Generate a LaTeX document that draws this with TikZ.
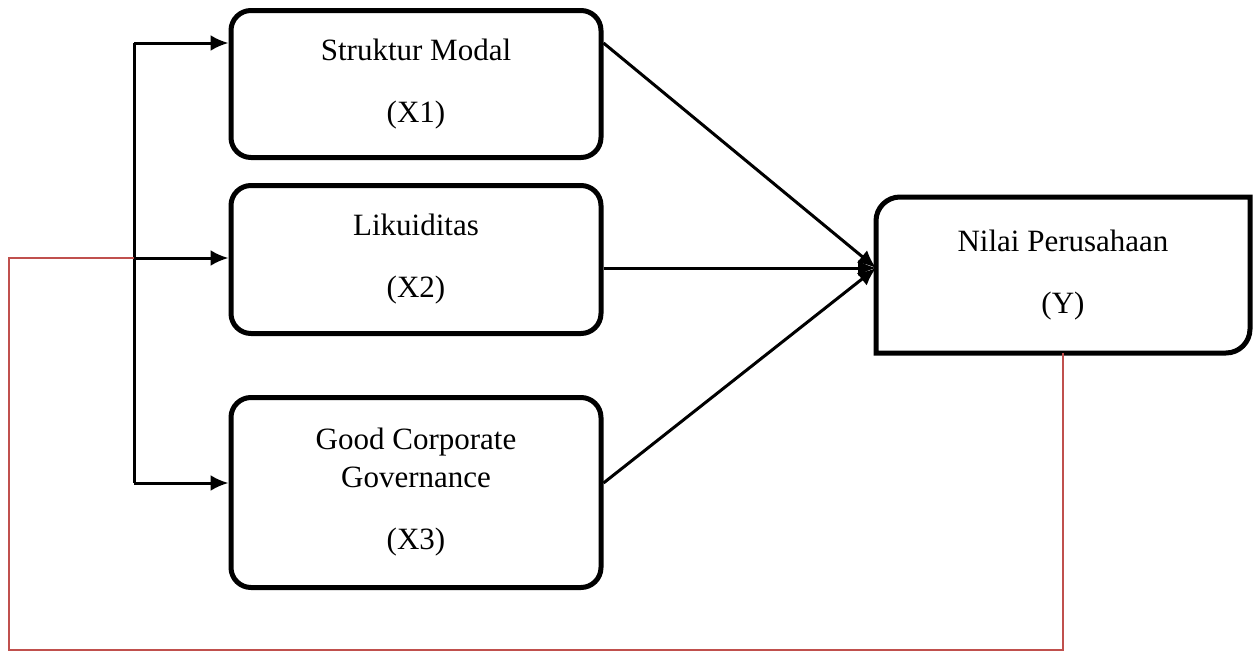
\documentclass[tikz,border=0pt]{standalone}
\usepackage{fontspec}
\setmainfont{Liberation Serif}
\usetikzlibrary{arrows.meta}
\definecolor{feedback}{RGB}{192,80,77}
\begin{document}
\begin{tikzpicture}[x=0.5pt,y=-0.5pt] % coordinates in pixels of the reference
\tikzstyle{var} = [draw, line width=2.5pt, rounded corners=10pt, minimum width=185pt, align=center, font=\fontsize{15.5}{19}\selectfont] % variable box
\tikzstyle{arr} = [line width=1.5pt, -{Latex[length=9pt,width=8pt]}] % arrow style
\tikzstyle{redline} = [line width=1.2pt, color=feedback] % feedback line
\useasboundingbox (0,0) rectangle (1259,653);
\node[var, minimum height=73.5pt] (x1) at (416,84) {Struktur Modal\\[12pt](X1)};
\node[var, minimum height=74pt] (x2) at (416,259.5) {Likuiditas\\[12pt](X2)};
\node[var, minimum height=95pt] (x3) at (416,492.5) {Good Corporate\\Governance\\[12pt](X3)};
\node[var, draw=none, minimum width=184.5pt, minimum height=75.5pt] (y) at (1063,275) {Nilai Perusahaan\\[12pt](Y)};
\draw[line width=2.5pt] (y.west) {[rounded corners=12pt] -- (y.north west) -- (y.north)} -- (y.north east) -- (y.east)
    {[rounded corners=12pt] -- (y.south east) -- (y.south)} -- (y.south west) -- cycle; % only two corners rounded
\coordinate (b1) at (134,43);
\coordinate (b2) at (134,258);
\coordinate (b3) at (134,483);
\coordinate (r1) at (9,650);
\coordinate (yin) at ([yshift=3.5pt]y.west);
\draw[line width=1.5pt] (b1) -- (b3);
\foreach \i in {1,2,3}
    \draw[arr] (b\i) -- (b\i -| x\i.west);
\draw[arr] (x1.east |- b1) -- (yin);
\draw[arr] (x2.east |- yin) -- (yin);
\draw[arr] (x3.east |- b3) -- (yin);
\draw[redline] (y.south) |- (r1) |- (b2);
\end{tikzpicture}
\end{document}
